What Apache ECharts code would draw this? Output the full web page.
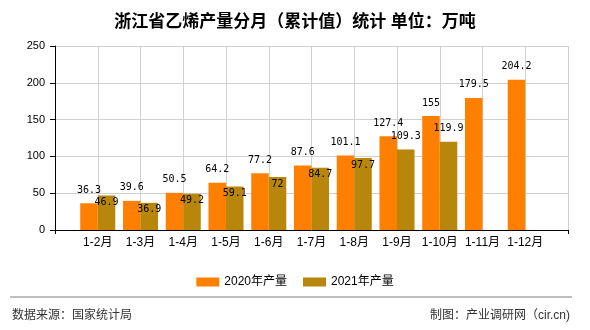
<!DOCTYPE html>
<html>
<head>
<meta charset="utf-8">
<script src="https://cdn.jsdelivr.net/npm/echarts@6/dist/echarts.min.js"></script>
<style>
  html, body { margin: 0; padding: 0; background: #fff; }
  #chart { width: 590px; height: 330px; }
</style>
</head>
<body>
<div id="chart"></div>
<script>
// Monthly cumulative ethylene output, Zhejiang (10k tonnes)
const months = ['1-2月', '1-3月', '1-4月', '1-5月', '1-6月', '1-7月', '1-8月', '1-9月', '1-10月', '1-11月', '1-12月'];
const output2020 = [36.3, 39.6, 50.5, 64.2, 77.2, 87.6, 101.1, 127.4, 155, 179.5, 204.2];
const output2021 = [46.9, 36.9, 49.2, 59.1, 72, 84.7, 97.7, 109.3, 119.9, null, null];
const yTicks = { min: 0, max: 250, interval: 50 };

const GRID = { left: 55, right: 22, top: 46, height: 184 };
const pxPerUnit = GRID.height / (yTicks.max - yTicks.min);

const CJK = '"Liberation Sans", "Noto Sans CJK SC", sans-serif';
const MONO = '"DejaVu Sans Mono", monospace';

// Pad with an empty slot at each end so bars sit on the grid lines
const cats = [''].concat(months, ['']);
const pad = arr => [null].concat(arr, [null]);

// 2021 labels drop inside the bar when they would collide with the 2020 label
const data2021 = pad(output2021).map((v, i) => {
  if (v == null) return null;
  const other = output2020[i - 1];
  const clash = Math.abs(other - v) * pxPerUnit < 13;
  return {
    value: v,
    label: clash ? { position: 'insideTop', distance: 1 } : { position: 'top', distance: 7 }
  };
});

const chart = echarts.init(document.getElementById('chart'), null, { renderer: 'canvas' });
chart.setOption({
  animation: false,
  backgroundColor: '#fff',
  title: {
    text: '浙江省乙烯产量分月（累计值）统计 单位：万吨',
    left: 'center',
    top: 9,
    textStyle: { fontSize: 17, fontWeight: 'bold', color: '#000', fontFamily: CJK }
  },
  grid: { left: GRID.left, right: GRID.right, top: GRID.top, height: GRID.height, containLabel: false },
  legend: {
    data: ['2020年产量', '2021年产量'],
    left: 'center',
    top: 271,
    icon: 'rect',
    itemWidth: 23,
    itemHeight: 9,
    itemGap: 16,
    textStyle: { fontSize: 12, color: '#000', fontFamily: CJK }
  },
  xAxis: {
    type: 'category',
    data: cats,
    boundaryGap: false,
    axisLine: { lineStyle: { color: '#000', width: 1 } },
    axisTick: { show: true, length: 4, interval: i => i === 0 || i === cats.length - 1, lineStyle: { color: '#000' } },
    axisLabel: { interval: 0, margin: 7, fontSize: 12, color: '#000', fontFamily: CJK },
    splitLine: { show: true, interval: 0, lineStyle: { color: '#d0d0d0', width: 1 } }
  },
  yAxis: {
    type: 'value',
    min: yTicks.min,
    max: yTicks.max,
    interval: yTicks.interval,
    axisLine: { show: true, lineStyle: { color: '#000', width: 1 } },
    axisTick: { show: true, length: 5, lineStyle: { color: '#000' } },
    axisLabel: { margin: 10, fontSize: 11, color: '#000', fontFamily: CJK },
    splitLine: { show: true, lineStyle: { color: '#d0d0d0', width: 1 } }
  },
  series: [
    {
      name: '2020年产量',
      type: 'bar',
      data: pad(output2020),
      barGap: '0%',
      barCategoryGap: '18%',
      itemStyle: { color: '#FF8000' },
      label: { show: true, position: 'top', distance: 7, fontSize: 10, lineHeight: 12, color: '#000', fontFamily: MONO }
    },
    {
      name: '2021年产量',
      type: 'bar',
      data: data2021,
      barGap: '0%',
      barCategoryGap: '18%',
      itemStyle: { color: '#B8860B' },
      label: { show: true, fontSize: 10, lineHeight: 12, color: '#000', fontFamily: MONO }
    }
  ],
  graphic: [
    { type: 'line', shape: { x1: 10, y1: 297, x2: 572, y2: 297 }, style: { stroke: '#808080', lineWidth: 1 } },
    { type: 'text', left: 12, top: 310, style: { text: '数据来源：国家统计局', fontSize: 12, fill: '#333', fontFamily: CJK } },
    { type: 'text', right: 20, top: 310, style: { text: '制图：产业调研网（cir.cn)', fontSize: 12, fill: '#333', fontFamily: CJK } }
  ]
});
</script>
</body>
</html>
